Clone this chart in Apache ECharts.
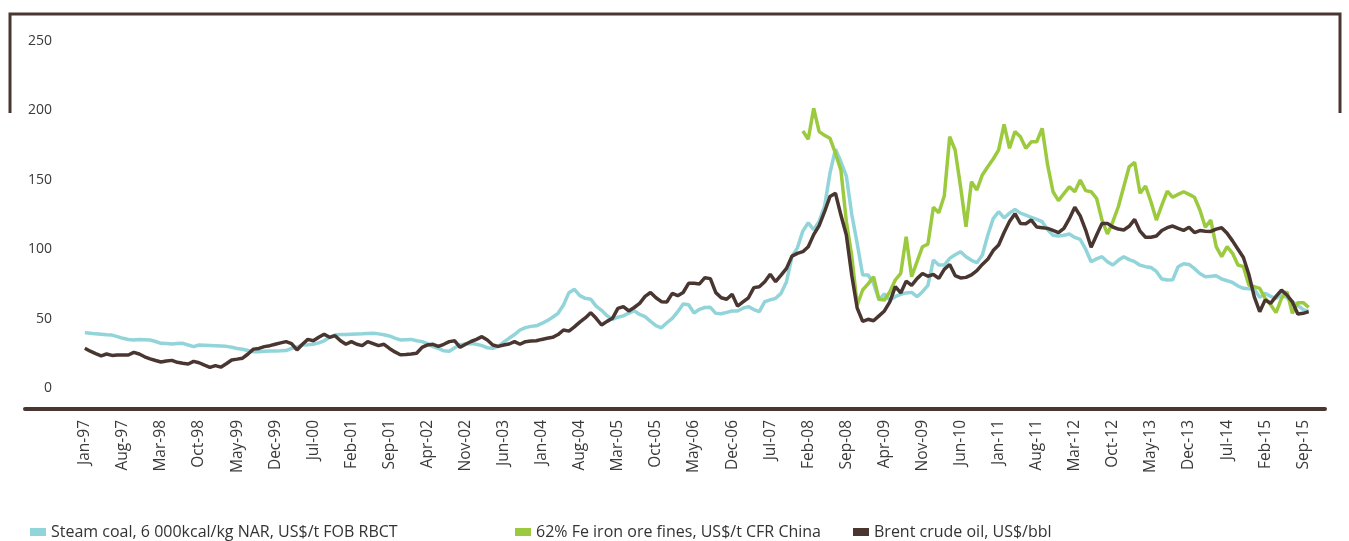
<!DOCTYPE html>
<html>
<head>
<meta charset="utf-8">
<script src="https://cdn.jsdelivr.net/npm/echarts@6/dist/echarts.min.js"></script>
<style>
html,body{margin:0;padding:0;background:#fff;}
#chart{width:1349px;height:541px;}
</style>
</head>
<body>
<div id="chart"></div>
<script>
// Monthly series, Jan-97 .. Oct-15
const steamCoal = [
 39.9,39.5,39,38.8,38.3,38.1,37,35.8,35,34.6,35,34.8,
 34.6,33.5,32.2,32,31.7,32,32.2,31,29.8,31,30.8,30.6,
 30.4,30.2,30,29.3,28.5,27.9,27,26.2,26.2,26.4,26.6,26.7,
 26.8,27,28.5,29.5,31,31.2,31.5,32.5,34,36.5,38.2,38.5,
 38.6,38.8,38.9,39,39.2,39.4,39,38.4,37.5,36,34.6,34.8,
 35,34,33.4,32,29.8,28.5,26.8,26.5,29,31.2,31.8,32,
 31.5,30.5,29,28.6,30,33,35.8,38.5,41.8,43.5,44.4,44.8,
 46.5,48.5,51,53.8,59.8,68.7,71.1,66.5,64.6,64,59,56,
 52,49.5,51,52,54,55.7,53,51.4,48,45,43.4,47,
 50.2,55,60.5,60,54,56.7,58,58.1,53.8,53.5,54.5,55.5,
 55.5,57.5,58.6,56.5,55,62.2,63.5,64.6,68.2,76.6,94.6,101,
 113,119,114,120,131,155,172,163,152.7,125,104,81.4,
 81.4,75.4,63.4,67.7,63.4,65.8,67.5,68.5,68.9,65.8,69.4,74,
 92.2,88.6,88.6,93.4,96,98.2,94.6,92,90.3,95.8,110,122,
 127,122.5,126,128.7,126,124.6,123,121.5,119.8,114,110,109.5,
 110,110.9,108.5,107,100,91,93,94.6,91,88.6,92,94.6,
 92.5,91,88.5,87.4,86.8,84,78.5,77.8,78,87.4,89.5,89,
 86,82.5,80.2,80.5,80.9,78.5,77.3,76,73.5,71.8,71.5,71.3,
 65.3,68.2,66,64.6,67.7,65,62.2,59.5,56.5,55
];
// Iron ore, Jan-08 .. Oct-15
const ironOre = [
 185.2,179.2,201.5,184.7,182,179.9,169,157,120,95,59.8,70.6,
 75,80.2,63.9,63.4,69.4,77.8,82.6,109,80.2,91,101.8,103.7,
 130.2,126.3,138.3,181,171.5,145,116.2,148.6,142.7,153.5,159.4,165,
 171.5,190,172.7,184.7,181,172.7,177.4,177.4,187.1,160.7,141.4,135,
 140,145,141.4,149.9,142.2,141.4,136.7,121,111,119.8,130.6,145,
 159.4,162.6,140.3,145.5,134.2,121,131.8,141.9,137.4,139.5,141.4,139.5,
 137.4,128.2,115.8,121,101.8,94.6,101.8,97,88.6,87.4,74.2,73,
 71.8,64.6,60,54.3,64.6,69.4,53.8,61.5,61.5,58.1
];
// Brent, Jan-97 .. Oct-15
const brent = [
 28.6,26.5,24.8,23.2,24.5,23.5,23.8,23.8,23.8,25.7,24.5,22.5,
 21,19.8,18.7,19.5,19.9,18.5,17.8,17.3,19.2,18.2,16.5,14.9,
 16.1,15,17.5,20.2,20.8,21.5,24.5,28,28.5,29.8,30.5,31.5,
 32.5,33.4,32,27.4,31.5,35,34,36.5,38.7,36.5,37.7,34,
 31.5,33.4,31.5,30.5,33.4,32,30.5,31.5,28.5,26,24,24.2,
 24.5,25,29.3,31,31.5,30,31.5,33.4,34,29.3,31.5,33.5,
 35,37,34.6,31,30,31,31.7,33.4,31.5,33.4,33.8,34,
 35,35.8,36.5,38.5,41.8,41,44,47.5,50.5,54.3,50.2,45.4,
 48,50.2,57.4,58.6,55.5,58,61,66,68.8,65,62.2,62,
 68.2,66.5,68.8,75.4,75.4,75,79.5,78.8,68.7,65,63.9,67.5,
 59,62,65,72.3,73,76.6,81.9,76.6,81.3,86.2,95,97,
 98.2,101.8,110.5,117,127,138,140.3,124.6,110.2,81,57.5,48,
 49.5,48.5,52,55.5,62,73,68.5,77,74,78.8,82.5,80.5,
 81.8,79,85.5,89,81,79.3,79.7,81.5,84.5,89,92.7,99,
 103,112,120,125.6,118.6,118.3,121,116,115.5,115,113.5,112,
 115,122,130.2,124,113.8,101.4,110,118.6,118.6,116,114.5,113.8,
 116.5,121.5,113,108.6,108.6,109.5,113.5,115.5,116.7,115,113.5,115.8,
 112,113.4,113,112.8,114.5,115.5,111.5,106,100,94,81.8,65.7,
 55,63.5,61,66,70.5,67,62,53.3,53.8,55
];
const tickLabels = ['Jan-97','Aug-97','Mar-98','Oct-98','May-99','Dec-99','Jul-00','Feb-01','Sep-01','Apr-02','Nov-02','Jun-03','Jan-04','Aug-04','Mar-05','Oct-05','May-06','Dec-06','Jul-07','Feb-08','Sep-08','Apr-09','Nov-09','Jun-10','Jan-11','Aug-11','Mar-12','Oct-12','May-13','Dec-13','Jul-14','Feb-15','Sep-15'];
const yTicks = [0,50,100,150,200,250];
const seriesNames = ['Steam coal, 6 000kcal/kg NAR, US$/t FOB RBCT','62% Fe iron ore fines, US$/t CFR China','Brent crude oil, US$/bbl'];
const colors = ['#91d4d9','#9bca3e','#4a3631'];

// month categories Feb-96 .. Jan-16 (axis padding on both sides)
const mon = ['Jan','Feb','Mar','Apr','May','Jun','Jul','Aug','Sep','Oct','Nov','Dec'];
const categories = [];
for (let k = 0; k < 240; k++) {
  const m = (1 + k) % 12, y = 1996 + Math.floor((1 + k) / 12);
  categories.push(mon[m] + '-' + String(y % 100).padStart(2, '0'));
}
const startIdx = categories.indexOf('Jan-97');
const pad = n => Array(n).fill(null);
const coalData = pad(startIdx).concat(steamCoal);
const ironData = pad(categories.indexOf('Jan-08')).concat(ironOre);
const brentData = pad(startIdx).concat(brent);

const chart = echarts.init(document.getElementById('chart'), null, {renderer: 'canvas'});
const font = 'Open Sans, Noto Sans, sans-serif';
const legendBase = {top: 519, icon: 'rect', itemWidth: 16, itemHeight: 8, itemGap: 0, itemTextGap: 7,
  textStyle: {fontFamily: font, fontSize: 16, color: '#333'}, selectedMode: false};
chart.setOption({
  animation: false,
  color: colors,
  grid: {left: 25, right: 24, top: 41, bottom: 153, containLabel: false},
  legend: [
    Object.assign({left: 25, data: [seriesNames[0]]}, legendBase),
    Object.assign({left: 510, data: [seriesNames[1]]}, legendBase),
    Object.assign({left: 848, data: [seriesNames[2]]}, legendBase)
  ],
  graphic: [
    {type: 'polyline', silent: true, shape: {points: [[10, 113], [10, 14], [1340, 14], [1340, 113]]},
     style: {stroke: '#4a3631', lineWidth: 3, fill: null}}
  ],
  xAxis: {
    type: 'category', data: categories, boundaryGap: false, offset: 21,
    axisLine: {onZero: false, lineStyle: {color: '#4a3631', width: 4}},
    axisTick: {show: false},
    axisLabel: {
      rotate: 90, margin: 11, fontFamily: font, fontSize: 15.5, color: '#3a3a3a',
      padding: [8, 0, 0, 0],
      interval: (i, v) => tickLabels.indexOf(v) >= 0 && i >= startIdx
    },
    splitLine: {show: false}
  },
  yAxis: {
    type: 'value', min: yTicks[0], max: yTicks[yTicks.length - 1], interval: 50,
    axisLine: {show: false}, axisTick: {show: false}, splitLine: {show: false},
    axisLabel: {margin: -27, align: 'right', fontFamily: font, fontSize: 14, color: '#3a3a3a'}
  },
  series: [
    {name: seriesNames[0], type: 'line', data: coalData, showSymbol: false, lineStyle: {width: 3.5}, connectNulls: false},
    {name: seriesNames[1], type: 'line', data: ironData, showSymbol: false, lineStyle: {width: 3.5}, connectNulls: false},
    {name: seriesNames[2], type: 'line', data: brentData, showSymbol: false, lineStyle: {width: 3.5}, connectNulls: false}
  ]
});
</script>
</body>
</html>
